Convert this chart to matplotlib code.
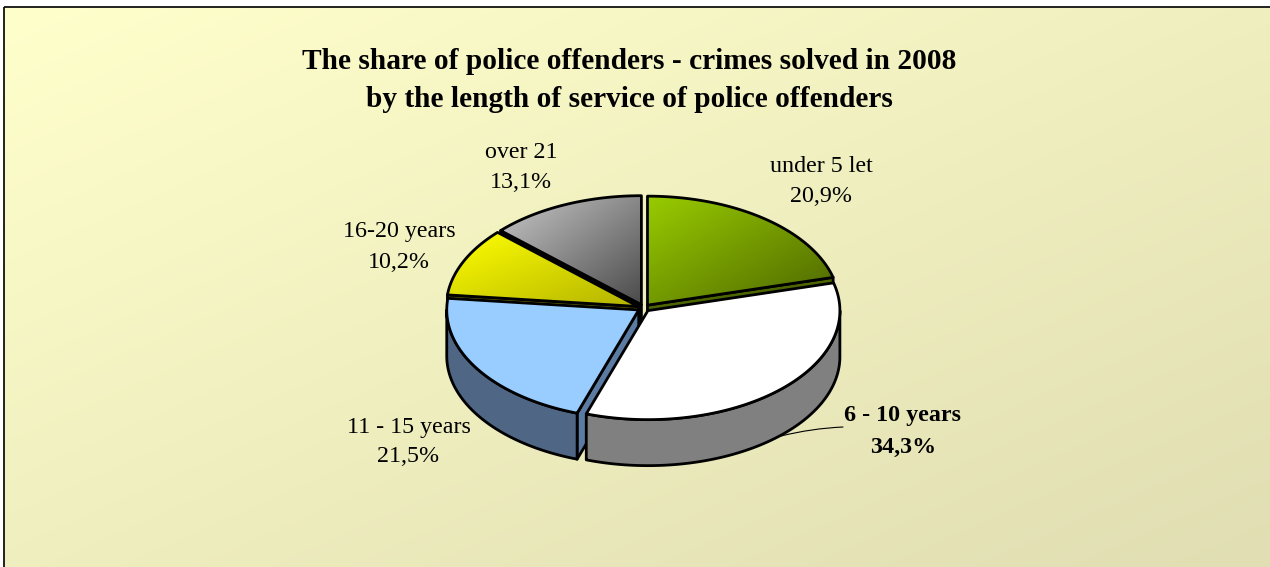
import numpy as np
import matplotlib
matplotlib.use("Agg")
import matplotlib.pyplot as plt
from matplotlib.patches import Polygon, Rectangle
from matplotlib.colors import LinearSegmentedColormap

# ---- data ----
categories = ["under 5 let", "6 - 10 years", "11 - 15 years", "16-20 years", "over 21"]
shares = [20.9, 34.3, 21.5, 10.2, 13.1]
title_lines = ["The share of police offenders - crimes solved in 2008",
               "by the length of service of police offenders"]

# ---- style / layout ----
TOP_COLORS = [("#99CC00", "#4D6600"), ("#FFFFFF", "#FFFFFF"), ("#99CCFF", "#99CCFF"),
              ("#FFFF00", "#B3B300"), ("#C8C8C8", "#4A4A4A")]
WALL_COLORS = ["#4D6600", "#808080", "#4F6685", "#6B6B00", "#111111"]
CUT_COLORS = ["#4D6600", "#808080", "#5B7BA3", "#6B6B00", "#111111"]
LABEL_XY = [(821, 171, 201), (903, 421, 452), (408.5, 432, 462), (399, 237, 267), (521, 157, 187)]
BOLD = [False, True, False, False, False]
CX, CY, RX, RY, DEPTH = 643.8, 308.0, 192.0, 109.0, 46.0
EXPLODE, EXPLODE_Y = 6.0, 0.6
LW = 2.0
FONT = "Liberation Serif"

fig = plt.figure(figsize=(12.7, 5.67), dpi=100, facecolor="white")
ax = fig.add_axes([0, 0, 1, 1])
ax.axis("off")

# diagonal gradient helper
def gradient(extent, c0, c1, zorder, clip=None):
    n = 256
    xx, yy = np.meshgrid(np.linspace(0, 1, n), np.linspace(0, 1, n))
    cmap = LinearSegmentedColormap.from_list("g", [c0, c1])
    im = ax.imshow((xx + yy) / 2, extent=extent, cmap=cmap, vmin=0, vmax=1,
                   aspect="auto", zorder=zorder, interpolation="bilinear", origin="upper")
    if clip is not None:
        im.set_clip_path(clip)
    return im

gradient((4, 1270, 567, 7), "#FFFFCC", "#E0DEB2", 0)
ax.add_patch(Rectangle((4, 7), 1300, 600, fill=False, ec="#111111", lw=1.3, zorder=1))

values = np.array(shares, dtype=float)
edges = np.concatenate([[0], np.cumsum(values) / values.sum() * 360.0])

def rim(cx, cy, a0, a1):
    t = np.radians(np.linspace(a0, a1, max(int(abs(a1 - a0)) * 2, 2)))
    return np.column_stack([cx + RX * np.sin(t), cy - RY * np.cos(t)])

def poly(pts, fc, z):
    p = Polygon(pts, closed=True, fc=fc, ec="black", lw=LW, joinstyle="round", zorder=z)
    ax.add_patch(p)
    return p

z = 2
for i in [4, 3, 2, 0, 1]:   # back to front
    a0, a1 = edges[i], edges[i + 1]
    mid = np.radians((a0 + a1) / 2)
    cx = CX + EXPLODE * np.sin(mid)
    cy = CY - EXPLODE * EXPLODE_Y * np.cos(mid)
    apex = np.array([[cx, cy]])
    down = np.array([0, DEPTH])
    # cut faces that face the viewer
    for a, visible in ((a0, np.sin(np.radians(a0)) < -1e-6), (a1, np.sin(np.radians(a1)) > 1e-6)):
        if visible:
            r = rim(cx, cy, a, a + 0.01)[:1]
            poly(np.vstack([apex, r, r + down, apex + down]), CUT_COLORS[i], z)
            z += 1
    # outer wall on the visible half
    w0, w1 = max(a0, 90), min(a1, 270)
    if w1 > w0:
        top = rim(cx, cy, w0, w1)
        poly(np.vstack([top, (top + down)[::-1]]), WALL_COLORS[i], z)
        z += 1
    # top face
    pts = np.vstack([apex, rim(cx, cy, a0, a1)])
    c0, c1 = TOP_COLORS[i]
    if c0 == c1:
        poly(pts, c0, z)
    else:
        clip = Polygon(pts, closed=True, fc="none", ec="none", transform=ax.transData)
        ax.add_patch(clip)
        gradient((pts[:, 0].min(), pts[:, 0].max(), pts[:, 1].max(), pts[:, 1].min()), c0, c1, z, clip)
        z += 1
        poly(pts, "none", z)
    z += 1

# leader line
ax.annotate("", xy=(781, 436), xytext=(843, 427), zorder=z,
            arrowprops=dict(arrowstyle="-", lw=0.8, color="black", shrinkA=0, shrinkB=0,
                            connectionstyle="arc3,rad=0.05"))

for name, v, (x, y1, y2), b in zip(categories, shares, LABEL_XY, BOLD):
    w = "bold" if b else "normal"
    pct = f"{v:.1f}%".replace(".", ",")
    ax.text(x, y1 + 0.5, name, ha="center", va="baseline", family=FONT, fontsize=17.3, weight=w, zorder=z + 1)
    ax.text(x, y2 + 0.5, pct, ha="center", va="baseline", family=FONT, fontsize=17.3, weight=w, zorder=z + 1)

for line, y in zip(title_lines, (68.6, 106.6)):
    ax.text(629, y, line, ha="center", va="baseline", family=FONT, fontsize=21.2,
            weight="bold", zorder=z + 1)

ax.set_xlim(0, 1270)
ax.set_ylim(567, 0)
fig.savefig("out.png", dpi=100, facecolor="white")
